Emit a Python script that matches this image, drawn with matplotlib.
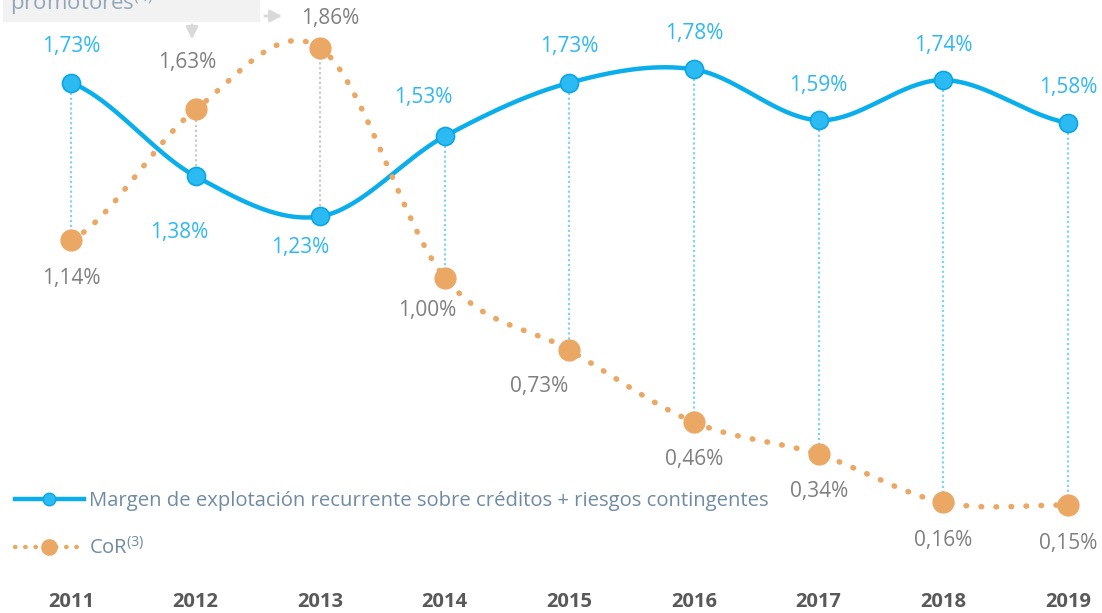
import matplotlib
matplotlib.use("Agg")
import matplotlib.pyplot as plt
import numpy as np
from matplotlib.lines import Line2D

plt.rcParams['font.family'] = ['Open Sans', 'DejaVu Sans']
plt.rcParams['mathtext.default'] = 'regular'

# data
years = ["2011", "2012", "2013", "2014", "2015", "2016", "2017", "2018", "2019"]
margen = [1.73, 1.38, 1.23, 1.53, 1.73, 1.78, 1.59, 1.74, 1.58]
cor = [1.14, 1.63, 1.86, 1.00, 0.73, 0.46, 0.34, 0.16, 0.15]
margen_name = "Margen de explotación recurrente sobre créditos + riesgos contingentes"
cor_name = "CoR$^{(3)}$"
callout_text = "promotores$^{(4)}$"

BLUE = "#0AAEEB"
BLUE_MK = "#2BBBF2"
BLUE_TXT = "#2DB8F2"
ORANGE = "#EBA864"
GRAY_TXT = "#7F7F7F"


def smooth(y, n=40):
    # catmull-rom style smoothing, like the office "smoothed line"
    y = np.asarray(y, float)
    x = np.arange(len(y), dtype=float)
    xs, ys = [], []
    for i in range(len(y) - 1):
        p0 = y[i - 1] if i > 0 else y[i]
        p3 = y[i + 2] if i + 2 < len(y) else y[i + 1]
        c1 = y[i] + (y[i + 1] - p0) / 6
        c2 = y[i + 1] - (p3 - y[i]) / 6
        t = np.linspace(0, 1, n)
        b = (1 - t) ** 3 * y[i] + 3 * (1 - t) ** 2 * t * c1 + 3 * (1 - t) * t ** 2 * c2 + t ** 3 * y[i + 1]
        xs.append(x[i] + t)
        ys.append(b)
    return np.concatenate(xs), np.concatenate(ys)


fig = plt.figure(figsize=(11.02, 6.13), dpi=100)
ax = fig.add_axes([0, 0, 1, 1])
ax.set_xlim(-0.570, 8.274)
ax.set_ylim(-0.2537, 2.0396)
ax.axis("off")

x = np.arange(len(years))

# vertical connectors
for i in range(len(x)):
    c = "#7FD3F7" if margen[i] > cor[i] else "#C9C9C9"
    ax.plot([x[i], x[i]], [margen[i], cor[i]], color=c, lw=1.6,
            ls=(0, (1, 1.2)), zorder=1)

sx, sy = smooth(margen)
ax.plot(sx, sy, color=BLUE, lw=3.2, zorder=2, solid_capstyle="round")
sx, sy = smooth(cor)
ax.plot(sx, sy, color=ORANGE, lw=4.0, ls=(0, (0.1, 2.6)),
        dash_capstyle="round", zorder=3)

ax.plot(x, margen, "o", ms=13, mfc=BLUE_MK, mec="#0AA6E3", mew=1.2, zorder=5)
ax.plot(x, cor, "o", ms=15, mfc=ORANGE, mec=ORANGE, zorder=4)

# value labels (pixel offsets)
blue_off = [(0, 36), (-16, -56), (-20, -31), (-22, 39), (0, 36), (0, 36), (0, 35), (0, 35), (0, 35)]
cor_off = [(0, -38), (-8, 47), (10, 30), (-18, -33), (-30, -36), (0, -37), (0, -37), (0, -38), (0, -38)]
for i in range(len(x)):
    ax.annotate(f"{margen[i]:.2f}%".replace(".", ","), (x[i], margen[i]),
                xytext=blue_off[i], textcoords="offset pixels",
                ha="center", va="center", fontsize=15, color=BLUE_TXT)
    ax.annotate(f"{cor[i]:.2f}%".replace(".", ","), (x[i], cor[i]),
                xytext=cor_off[i], textcoords="offset pixels",
                ha="center", va="center", fontsize=15, color=GRAY_TXT)

# year labels
for i, yr in enumerate(years):
    ax.text(x[i], -0.2140, yr, ha="center", va="center", fontsize=14.5,
            fontweight="bold", color="#595959")

# legend
handles = [
    Line2D([], [], color=BLUE, lw=3.2, marker="o", ms=9, mfc=BLUE_MK, mec="#0AA6E3"),
    Line2D([], [], color=ORANGE, lw=3.2, ls=(0, (0.1, 2.2)), dash_capstyle="round",
           marker="o", ms=11, mfc=ORANGE, mec=ORANGE),
]
leg = ax.legend(handles, [margen_name, cor_name], loc="upper left",
                bbox_to_anchor=(0.0136, 0.199), frameon=False, fontsize=14.6,
                handlelength=3.4, handletextpad=0.25, labelspacing=1.3,
                borderpad=0, borderaxespad=0, labelcolor="#6F8BA4")

# cropped callout box at the top
ax.add_patch(plt.Rectangle((0.003, 1 - 22 / 613), 0.233, 0.06, transform=ax.transAxes,
                           facecolor="#F2F2F2", edgecolor="none", zorder=0, clip_on=False))
ax.text(10 / 1102, 1 - 10 / 613, callout_text, transform=ax.transAxes, ha="left",
        va="baseline", fontsize=16, color="#94A7B8")
ax.annotate("", xy=(192 / 1102, 1 - 42 / 613), xytext=(192 / 1102, 1 - 22 / 613),
            xycoords="axes fraction",
            arrowprops=dict(arrowstyle="-|>,head_width=0.35,head_length=0.7",
                            color="#D9D9D9", lw=2))
ax.annotate("", xy=(285 / 1102, 1 - 16 / 613), xytext=(262 / 1102, 1 - 16 / 613),
            xycoords="axes fraction",
            arrowprops=dict(arrowstyle="-|>,head_width=0.35,head_length=0.7",
                            color="#D9D9D9", lw=2))

fig.savefig("out.png", dpi=100)
